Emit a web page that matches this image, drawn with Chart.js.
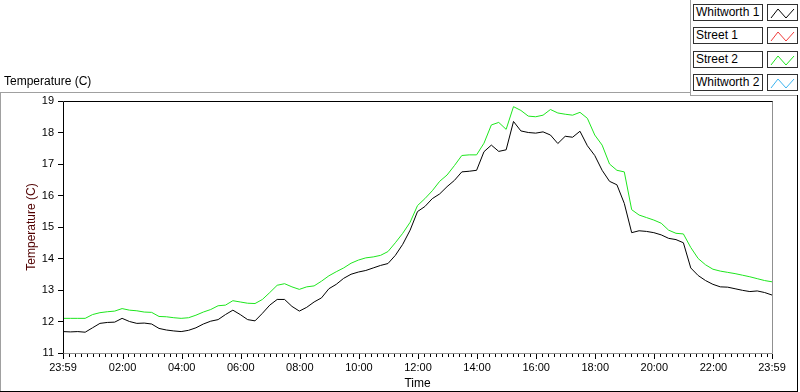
<!DOCTYPE html>
<html>
<head>
<meta charset="utf-8">
<script src="https://cdn.jsdelivr.net/npm/chart.js@4.4.0/dist/chart.umd.min.js"></script>
<style>
  html, body { margin: 0; padding: 0; background: #fff; }
  #wrap { position: relative; width: 800px; height: 392px; overflow: hidden; font-family: "Liberation Sans", Arial, sans-serif; }
  #grafico { position: absolute; left: 0; top: 0; }
  .traco { position: absolute; }
  #tituloTopo { position: absolute; left: 4px; top: 74px; font-size: 12px; line-height: 14px; color: #000; }
  .caixaNome { position: absolute; left: 693px; width: 70px; height: 17px; box-sizing: border-box; border: 1px solid #303030; background: #fff; font-size: 12px; line-height: 15px; padding-left: 2px; color: #000; white-space: nowrap; }
  .caixaIcone { position: absolute; left: 767px; width: 31px; height: 17px; box-sizing: border-box; border: 1px solid #303030; background: #fff; }
  .caixaIcone svg { position: absolute; left: 0; top: 0; }
</style>
</head>
<body>
<div id="wrap">
  <canvas id="grafico" width="800" height="392"></canvas>
  <div id="tituloTopo">Temperature (C)</div>
  <div id="legenda"></div>
</div>
<script>
/* DADOS */

// minutos desde 23:59
const minutos = [0, 15, 30, 45, 60, 75, 90, 105, 120, 135, 150, 165, 180, 195, 210, 225, 240, 255, 270, 285,
    300, 315, 330, 345, 360, 375, 390, 405, 420, 435, 450, 465, 480, 495, 510, 525, 540, 555, 570, 585,
    600, 615, 630, 645, 660, 675, 690, 705, 720, 735, 750, 765, 780, 795, 810, 825, 840, 855, 870, 885,
    900, 915, 930, 945, 960, 975, 990, 1005, 1020, 1035, 1050, 1065, 1080, 1095, 1110, 1125, 1140, 1155, 1170, 1185,
    1200, 1215, 1230, 1245, 1260, 1275, 1290, 1305, 1320, 1335, 1350, 1365, 1380, 1395, 1410, 1425, 1440];

const whitworth1 = [11.68, 11.67, 11.68, 11.66, 11.80, 11.94, 11.97, 11.98, 12.10, 12.00, 11.94, 11.95, 11.92, 11.78, 11.73, 11.70, 11.68, 11.72, 11.80, 11.92,
    12.01, 12.06, 12.22, 12.36, 12.22, 12.06, 12.02, 12.26, 12.52, 12.70, 12.70, 12.48, 12.33, 12.45, 12.62, 12.75, 13.04, 13.18, 13.37, 13.50,
    13.57, 13.62, 13.70, 13.78, 13.84, 14.10, 14.45, 14.90, 15.49, 15.65, 15.90, 16.05, 16.28, 16.48, 16.75, 16.77, 16.80, 17.39, 17.60, 17.40,
    17.45, 18.35, 18.05, 18.00, 17.98, 18.02, 17.92, 17.65, 17.88, 17.85, 18.04, 17.58, 17.27, 16.80, 16.45, 16.34, 15.75, 14.82, 14.88, 14.86,
    14.82, 14.75, 14.64, 14.60, 14.50, 13.70, 13.46, 13.30, 13.18, 13.10, 13.09, 13.04, 12.99, 12.95, 12.97, 12.92, 12.84];

const street1 = [];

const street2 = [12.10, 12.10, 12.10, 12.10, 12.22, 12.28, 12.31, 12.33, 12.41, 12.36, 12.34, 12.30, 12.29, 12.16, 12.15, 12.12, 12.10, 12.12, 12.20, 12.30,
    12.38, 12.50, 12.52, 12.66, 12.62, 12.58, 12.57, 12.70, 12.92, 13.15, 13.20, 13.10, 13.02, 13.10, 13.13, 13.28, 13.45, 13.58, 13.70, 13.85,
    13.95, 14.02, 14.05, 14.10, 14.22, 14.50, 14.80, 15.15, 15.68, 15.90, 16.15, 16.45, 16.65, 16.95, 17.27, 17.29, 17.29, 17.66, 18.24, 18.32,
    18.10, 18.82, 18.70, 18.52, 18.50, 18.55, 18.73, 18.62, 18.58, 18.55, 18.64, 18.45, 17.92, 17.60, 17.00, 16.80, 16.75, 15.55, 15.38, 15.30,
    15.22, 15.12, 14.90, 14.80, 14.78, 14.35, 14.00, 13.80, 13.66, 13.60, 13.56, 13.52, 13.47, 13.42, 13.36, 13.30, 13.26];

const whitworth2 = [];

const nomesSeries = ['Whitworth 1', 'Street 1', 'Street 2', 'Whitworth 2'];
const coresSeries = ['#000000', '#f03c3c', '#1ee61e', '#3cb4f0'];

// marcas do eixo do tempo
const ticksMaiores = [0, 121, 241, 361, 481, 601, 721, 841, 961, 1081, 1201, 1321, 1440];
const rotulosTempo = ['23:59', '02:00', '04:00', '06:00', '08:00', '10:00', '12:00', '14:00', '16:00', '18:00', '20:00', '22:00', '23:59'];

let ticksMenores = [];
for (let k = 1; k < 120; k++) {
    if (k % 10 != 0) ticksMenores.push(k * 12 + 1);
}

/* LEGENDA */

const legenda = document.querySelector('#legenda');
const topos = [4, 27, 51, 74];
nomesSeries.forEach((nome, i) => {
    let caixa = document.createElement('div');
    caixa.className = 'caixaNome';
    caixa.style.top = topos[i] + 'px';
    caixa.textContent = nome;
    legenda.appendChild(caixa);

    let icone = document.createElement('div');
    icone.className = 'caixaIcone';
    icone.style.top = topos[i] + 'px';
    icone.innerHTML = '<svg width="29" height="15"><polyline points="3,13 10,4 18,13 26,4" fill="none" stroke="' + coresSeries[i] + '" stroke-width="1"/></svg>';
    legenda.appendChild(icone);
});

/* MOLDURA */

function linha(x, y, w, h, cor) {
    let d = document.createElement('div');
    d.className = 'traco';
    d.style.left = x + 'px';
    d.style.top = y + 'px';
    d.style.width = w + 'px';
    d.style.height = h + 'px';
    d.style.background = cor;
    document.querySelector('#wrap').appendChild(d);
}

linha(0, 92, 690, 1, '#a0a0a0');
linha(0, 92, 1, 300, '#a0a0a0');
linha(690, 0, 1, 96, '#a0a0a0');
linha(690, 95, 108, 1, '#a0a0a0');
linha(797, 95, 1, 297, '#000');
linha(0, 391, 798, 1, '#000');

/* GRAFICO */

const moldura = {
    id: 'moldura',
    afterDraw(chart) {
        const {ctx, chartArea: a, scales: {x}} = chart;
        ctx.save();
        ctx.lineWidth = 1;
        ctx.strokeStyle = '#909090';
        ctx.beginPath();
        ctx.moveTo(a.right + 0.5, a.top);
        ctx.lineTo(a.right + 0.5, a.bottom + 0.5);
        ctx.lineTo(a.left, a.bottom + 0.5);
        ctx.stroke();

        ctx.strokeStyle = '#000';
        ctx.beginPath();
        ticksMenores.forEach(v => {
            let px = Math.round(x.getPixelForValue(v)) + 0.5;
            ctx.moveTo(px, a.bottom + 1);
            ctx.lineTo(px, a.bottom + 4);
        });
        ticksMaiores.forEach(v => {
            let px = Math.round(x.getPixelForValue(v)) + 0.5;
            ctx.moveTo(px, a.bottom + 1);
            ctx.lineTo(px, a.bottom + 6);
        });
        ctx.stroke();

        ctx.beginPath();
        ctx.moveTo(a.left + 0.5, a.bottom + 0.5);
        ctx.lineTo(a.left + 0.5, a.top + 0.5);
        ctx.lineTo(a.right + 0.5, a.top + 0.5);
        ctx.stroke();
        ctx.restore();
    }
};

Chart.defaults.font.family = '"Liberation Sans", Arial, sans-serif';
Chart.defaults.color = '#000';

const series = [whitworth1, street1, street2, whitworth2];

const grafico = new Chart(document.querySelector('#grafico'), {
    type: 'line',
    data: {
        datasets: series.map((valores, i) => ({
            label: nomesSeries[i],
            data: valores.map((v, j) => ({x: minutos[j], y: v})),
            borderColor: coresSeries[i],
            borderWidth: 1,
            pointRadius: 0,
            tension: 0
        }))
    },
    options: {
        responsive: false,
        animation: false,
        devicePixelRatio: 1,
        layout: {padding: {left: 0, top: 101, right: 28, bottom: 0}},
        plugins: {legend: {display: false}, tooltip: {enabled: false}},
        scales: {
            x: {
                type: 'linear',
                min: 0,
                max: 1440,
                afterFit: s => { s.height = 39; },
                afterBuildTicks: s => { s.ticks = ticksMaiores.map(v => ({value: v})); },
                grid: {display: false, drawTicks: true, tickLength: 5},
                border: {display: false},
                ticks: {
                    autoSkip: false,
                    maxRotation: 0,
                    padding: 3,
                    font: {size: 11},
                    callback: (v, i) => rotulosTempo[i]
                },
                title: {display: true, text: 'Time', font: {size: 12}, padding: {top: 0, bottom: 1}}
            },
            y: {
                min: 11,
                max: 19,
                afterFit: s => { s.width = 63; },
                grid: {display: true, drawOnChartArea: false, drawTicks: true, tickLength: 5, color: '#000'},
                border: {display: false},
                ticks: {stepSize: 1, padding: 4, font: {size: 11}},
                title: {display: true, text: 'Temperature (C)', color: '#500000', font: {size: 12}, padding: {top: 24, bottom: 0}}
            }
        }
    },
    plugins: [moldura]
});
</script>
</body>
</html>
